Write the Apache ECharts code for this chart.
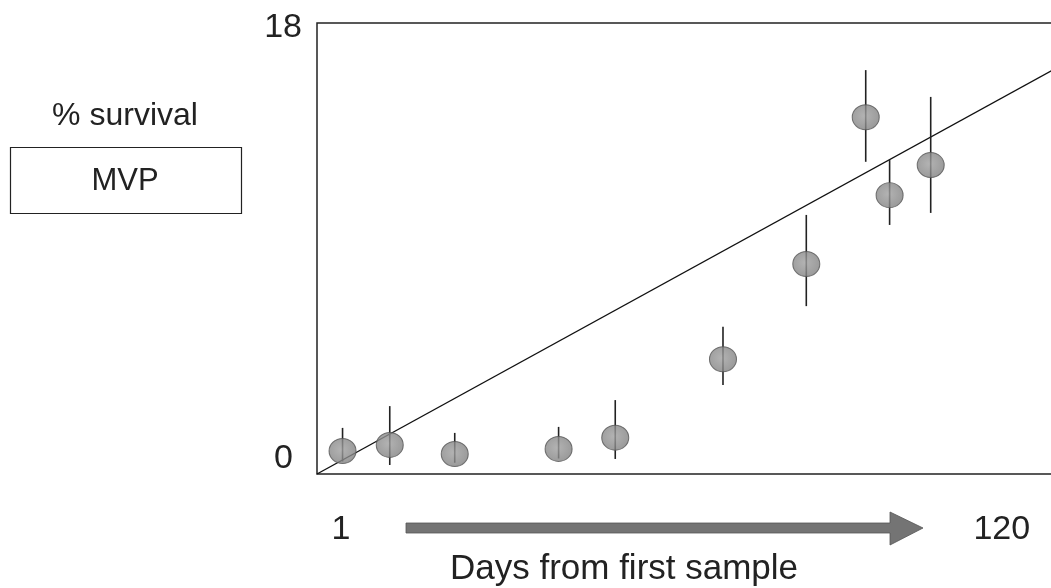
<!DOCTYPE html>
<html>
<head>
<meta charset="utf-8">
<script src="https://cdn.jsdelivr.net/npm/echarts@6/dist/echarts.min.js"></script>
<style>
  html, body { margin: 0; padding: 0; background: #fff; }
  #chart { width: 1051px; height: 588px; }
</style>
</head>
<body>
<div id="chart"></div>
<script>
// Sampling days and mean % survival with error range
const days      = [1.3, 9.8, 21.5, 40.2, 50.4, 69.8, 84.8, 95.5, 99.8, 107.2];
const survival  = [0.92, 1.16, 0.80, 1.00, 1.45, 4.58, 8.38, 14.24, 11.13, 12.33];
const errLow    = [0.50, 0.36, 0.45, 0.62, 0.60, 3.55, 6.70, 12.46, 9.94, 10.42];
const errHigh   = [1.84, 2.71, 1.64, 1.88, 2.95, 5.88, 10.34, 16.12, 12.53, 15.05];

// Linear fit end points
const trendDays   = [-3.3, 130.3];
const trendValues = [0, 16.26];

// Tick labels
const xTicks = [1, 120];
const yTicks = [0, 18];

const FONT = '"Liberation Sans", Arial, sans-serif';
const INK = '#222';

const chart = echarts.init(document.getElementById('chart'));

chart.setOption({
  animation: false,
  backgroundColor: '#fff',
  grid: {
    left: 317, top: 23, width: 742, height: 451,
    outerBoundsMode: 'none', containLabel: false,
    show: true, borderColor: '#222', borderWidth: 1.5, backgroundColor: 'transparent'
  },
  xAxis: {
    type: 'value', min: -3.3, max: 130.3,
    axisLine: { show: false }, axisTick: { show: false }, splitLine: { show: false },
    axisLabel: {
      customValues: xTicks, margin: 39,
      fontFamily: FONT, fontSize: 34, color: INK
    }
  },
  yAxis: {
    type: 'value', min: yTicks[0], max: yTicks[1], interval: yTicks[1] - yTicks[0],
    axisLine: { show: false }, axisTick: { show: false }, splitLine: { show: false },
    axisLabel: {
      margin: 15,
      formatter: v => (v === yTicks[1] ? '{top|' + v + '}' : '{bot|' + v + '}'),
      rich: {
        top: { fontFamily: FONT, fontSize: 34, color: INK, padding: [9, 0, 0, 0] },
        bot: { fontFamily: FONT, fontSize: 34, color: INK, padding: [0, 9, 31, 0] }
      }
    }
  },
  graphic: [
    {
      type: 'text', x: 125, y: 116,
      style: { text: '% survival', fontFamily: FONT, fontSize: 32, fill: INK,
               align: 'center', verticalAlign: 'middle' }
    },
    {
      type: 'rect', shape: { x: 10.5, y: 147.5, width: 231, height: 66 },
      style: { fill: '#fff', stroke: '#222', lineWidth: 1.2 }
    },
    {
      type: 'text', x: 125, y: 181,
      style: { text: 'MVP', fontFamily: FONT, fontSize: 31, fill: INK,
               align: 'center', verticalAlign: 'middle' }
    },
    {
      // time direction arrow under the axis
      type: 'polygon',
      shape: { points: [[406, 523], [890, 523], [890, 512], [923, 528], [890, 545], [890, 533], [406, 533]] },
      style: { fill: '#747474', stroke: '#555', lineWidth: 0.8 }
    },
    {
      type: 'text', x: 624, y: 569,
      style: { text: 'Days from first sample', fontFamily: FONT, fontSize: 35, fill: INK,
               align: 'center', verticalAlign: 'middle' }
    }
  ],
  series: [
    {
      type: 'line', z: 2,
      data: trendDays.map((d, i) => [d, trendValues[i]]),
      symbol: 'none', silent: true,
      lineStyle: { color: '#111', width: 1.4 }
    },
    {
      type: 'custom', z: 3,
      data: days.map((d, i) => [d, errLow[i], errHigh[i]]),
      renderItem: (params, api) => {
        const x = api.value(0);
        const lo = api.coord([x, api.value(1)]);
        const hi = api.coord([x, api.value(2)]);
        return {
          type: 'line',
          shape: { x1: lo[0], y1: lo[1], x2: hi[0], y2: hi[1] },
          style: { stroke: '#222', lineWidth: 1.6 }
        };
      }
    },
    {
      type: 'scatter', z: 4,
      data: days.map((d, i) => [d, survival[i]]),
      symbol: 'circle', symbolSize: [27, 25],
      itemStyle: {
        color: {
          type: 'radial', x: 0.45, y: 0.45, r: 0.6,
          colorStops: [{ offset: 0, color: '#a0a0a0' }, { offset: 1, color: '#7e7e7e' }]
        },
        borderColor: '#555', borderWidth: 1
      }
    }
  ]
});
</script>
</body>
</html>
